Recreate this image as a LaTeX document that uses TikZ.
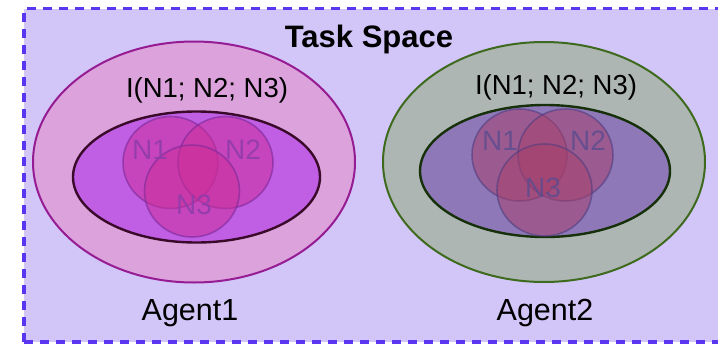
\documentclass[tikz,border=0pt]{standalone}
\usepackage{fontspec}
\setmainfont{Liberation Sans}
\usetikzlibrary{shapes.geometric}
\definecolor{spacebg}{HTML}{D2C5F8}
\definecolor{spaceline}{HTML}{5A36F0}
\definecolor{aoneouter}{HTML}{DCA2DC}
\definecolor{aoneouterline}{HTML}{961C94}
\definecolor{aoneinner}{HTML}{C05EE4}
\definecolor{aoneinnerline}{HTML}{3A0A2A}
\definecolor{aonecirc}{HTML}{CC2E98}
\definecolor{aonecircline}{HTML}{7A2A9A}
\definecolor{aonelabel}{HTML}{8E3CAA}
\definecolor{atwoouter}{HTML}{AEB6B3}
\definecolor{atwoouterline}{HTML}{3E6A1E}
\definecolor{atwoinner}{HTML}{8E78B8}
\definecolor{atwoinnerline}{HTML}{16300A}
\definecolor{atwocirc}{HTML}{A8406C}
\definecolor{atwocircline}{HTML}{4E3E80}
\definecolor{atwolabel}{HTML}{5E4C8E}
\tikzset{
  blob/.style={ellipse, inner sep=0pt, line width=2pt},
  setcirc/.style={ellipse, inner sep=0pt, minimum width=95pt, minimum height=92pt,
    line width=1.6pt, fill opacity=0.5, draw opacity=0.6},
  setlabel/.style={font=\fontsize{28}{28}\selectfont, inner sep=0pt, opacity=0.85},
  infolabel/.style={font=\fontsize{27.5}{28}\selectfont, inner sep=0pt},
  agentlabel/.style={font=\fontsize{30.5}{31}\selectfont, inner sep=0pt},
  spacedash/.style={spaceline, line width=3.2pt, dash pattern=on 9pt off 7pt},
}
\begin{document}
\begin{tikzpicture}[x=1pt, y=-1pt]
\useasboundingbox (0,0) rectangle (718,343);
\clip (0,0) rectangle (718,343);
% task space
\fill[spacebg] (24,8.5) rectangle (740,342);
\draw[spacedash] (24,342) -- (24,8.5) -- (740,8.5);
\draw[spacedash] (24,342) -- (740,342);
\node[font=\bfseries\fontsize{31}{31}\selectfont, inner sep=0pt] (title) at (369,39) {Task Space};

% agent 1
\node[blob, draw=aoneouterline, fill=aoneouter, minimum width=322pt, minimum height=241pt] (a1outer) at (194,162) {};
\node[blob, draw=aoneinnerline, fill=aoneinner, line width=2.4pt, minimum width=247pt, minimum height=131pt] (a1inner) at (196.5,177) {};
\node[infolabel] (a1info) at (207,90) {I(N1; N2; N3)};
\node[setcirc, draw=aonecircline, fill=aonecirc] (a1n1) at (170.5,162.5) {};
\node[setcirc, draw=aonecircline, fill=aonecirc] (a1n2) at (225.5,162.5) {};
\node[setcirc, draw=aonecircline, fill=aonecirc] (a1n3) at (192,191) {};
\node[setlabel, text=aonelabel] (a1n1l) at (150,150) {N1};
\node[setlabel, text=aonelabel] (a1n2l) at (243,150) {N2};
\node[setlabel, text=aonelabel] (a1n3l) at (194,205) {N3};
\node[agentlabel] (a1name) at (190,313) {Agent1};

% agent 2
\node[blob, draw=atwoouterline, fill=atwoouter, minimum width=322pt, minimum height=240pt] (a2outer) at (544,162) {};
\node[blob, draw=atwoinnerline, fill=atwoinner, line width=2.4pt, minimum width=250pt, minimum height=132pt] (a2inner) at (545,171) {};
\node[infolabel] (a2info) at (556,87) {I(N1; N2; N3)};
\node[setcirc, draw=atwocircline, fill=atwocirc] (a2n1) at (519.5,155) {};
\node[setcirc, draw=atwocircline, fill=atwocirc] (a2n2) at (565.5,155) {};
\node[setcirc, draw=atwocircline, fill=atwocirc] (a2n3) at (544.5,190) {};
\node[setlabel, text=atwolabel] (a2n1l) at (500,141) {N1};
\node[setlabel, text=atwolabel] (a2n2l) at (588,141) {N2};
\node[setlabel, text=atwolabel] (a2n3l) at (543,188) {N3};
\node[agentlabel] (a2name) at (545,313) {Agent2};
\end{tikzpicture}
\end{document}
